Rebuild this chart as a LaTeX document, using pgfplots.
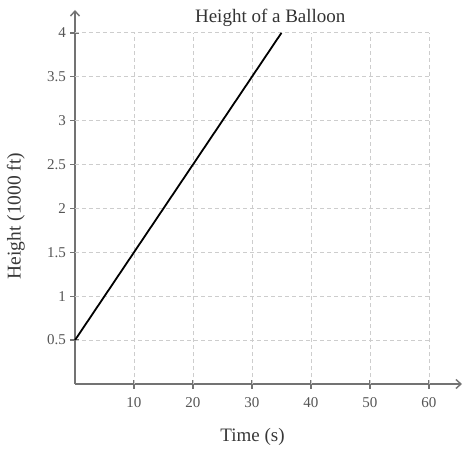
\documentclass[border=0pt]{standalone}
\usepackage{pgfplots}
\pgfplotsset{compat=1.18}
\usepackage{fontspec}
\setmainfont{Liberation Serif}
\usetikzlibrary{arrows.meta}
\definecolor{axgray}{RGB}{115,115,115}
\definecolor{gridgray}{RGB}{205,205,205}
\definecolor{ticktext}{RGB}{85,85,85}
\begin{document}
\begin{tikzpicture}
\begin{axis}[
  at={(0pt,0pt)}, anchor=origin,
  scale only axis,
  width=387pt, height=374pt,
  xmin=0, xmax=65.6, ymin=0, ymax=4.26,
  axis lines=left,
  axis line style={axgray, line width=1.6pt, -{Straight Barb[length=5pt,width=9pt,line width=1.4pt]}},
  xtick={10,20,...,60},
  ytick={0.5,1,...,4},
  yticklabels={0.5,1,1.5,2,2.5,3,3.5,4},
  tick align=center,
  major tick length=9pt,
  tick style={axgray, line width=1.4pt},
  ticklabel style={font=\fontsize{15}{15}\selectfont, text=ticktext},
  xticklabel style={yshift=-5pt},
  yticklabel style={xshift=-1pt},
  /pgf/number format/assume math mode=true,
  clip=false,
  xlabel={Time (s)},
  ylabel={Height (1000 ft)},
  xlabel style={at={(axis description cs:0.4587,-0.1417)}, anchor=center, font=\fontsize{19}{19}\selectfont, text=black!78},
  ylabel style={at={(axis description cs:-0.153,0.449)}, anchor=center, rotate=0, font=\fontsize{19.5}{19.5}\selectfont, text=black!78},
]
\pgfplotsinvokeforeach{10,20,30,40,50,60}{
  \draw[gridgray, dashed, dash pattern=on 4pt off 3pt, line width=0.9pt] (axis cs:#1,0) -- (axis cs:#1,4);
}
\pgfplotsinvokeforeach{0.5,1,1.5,2,2.5,3,3.5,4}{
  \draw[gridgray, dashed, dash pattern=on 4pt off 3pt, line width=0.9pt] (axis cs:0,#1) -- (axis cs:60,#1);
}
\addplot[black, line width=1.8pt] coordinates {(0,0.5) (35,4)};
\node[anchor=base, font=\fontsize{19}{19}\selectfont, text=black!80] at (axis cs:33.1,4.123) {Height of a Balloon};
\end{axis}
\pgfresetboundingbox
\useasboundingbox (-75pt,-66pt) rectangle (388pt,384pt);
\end{tikzpicture}
\end{document}
